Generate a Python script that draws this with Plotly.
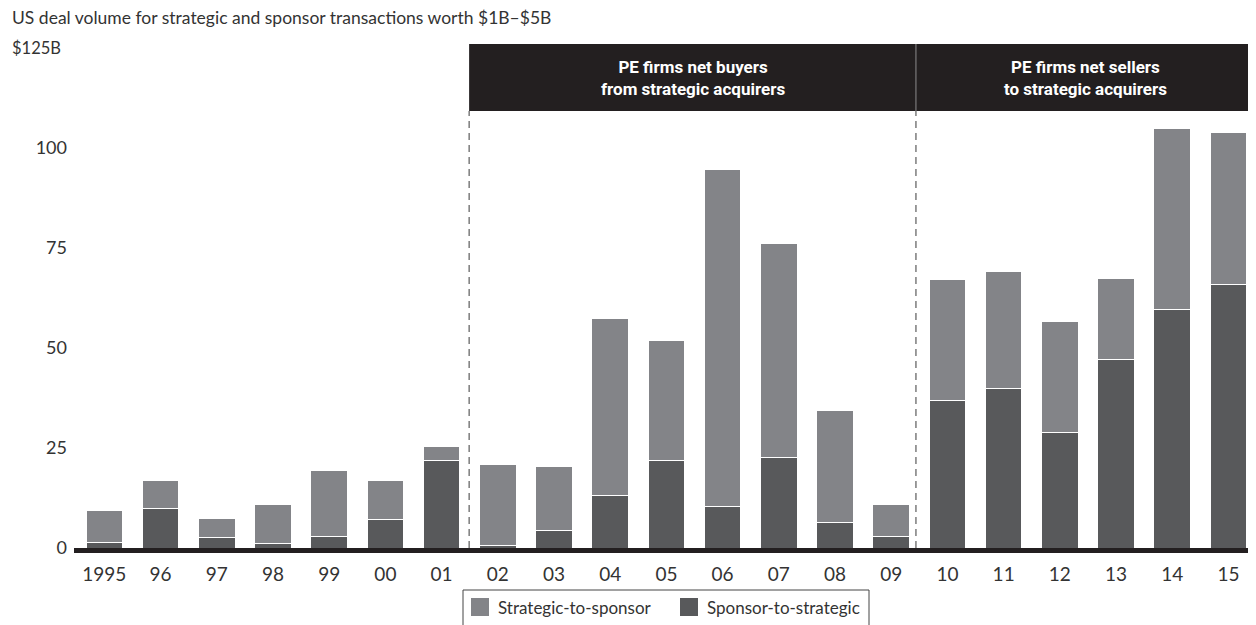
import plotly.graph_objects as go

# ---- data ----
years = ["1995", "96", "97", "98", "99", "00", "01", "02", "03", "04", "05",
         "06", "07", "08", "09", "10", "11", "12", "13", "14", "15"]
sponsor_to_strategic = [1.4, 9.9, 2.7, 1.2, 3.0, 7.1, 22.0, 0.6, 4.5, 13.2, 22.0,
                        10.5, 22.6, 6.3, 2.8, 36.8, 39.9, 28.8, 47.2, 59.6, 65.8]
total_volume = [9.5, 17.0, 7.3, 10.8, 19.3, 16.8, 25.4, 21.0, 20.5, 57.4, 51.8,
                94.7, 76.2, 34.5, 10.8, 67.2, 69.2, 56.7, 67.4, 105.0, 103.8]
strategic_to_sponsor = [round(t - s, 1) for t, s in zip(total_volume, sponsor_to_strategic)]

y_ticks = [0, 25, 50, 75, 100]
y_tick_labels = ["0", "25", "50", "75", "100"]
title_text = "US deal volume for strategic and sponsor transactions worth $1B–$5B"
unit_label = "$125B"
header_left = "PE firms net buyers<br>from strategic acquirers"
header_right = "PE firms net sellers<br>to strategic acquirers"
legend_names = ["Strategic-to-sponsor", "Sponsor-to-strategic"]

# ---- style ----
LIGHT = "#838488"
DARK = "#58595b"
INK = "#231f20"
TXT = "#333333"
FONT = "Lato"

OFF = 8  # default page body margin
W, H = 1256 - OFF, 625 - OFF
ML, MR, MT, MB = 74 - OFF, 0, 40 - OFF, 72
PW, PH = W - ML - MR, H - MT - MB

def px(x):  # page x pixel -> paper
    return (x - OFF - ML) / PW

def py(y):  # page y pixel -> paper
    return (H - MB - (y - OFF)) / PH

fig = go.Figure()
fig.add_trace(go.Bar(x=years, y=sponsor_to_strategic, name=legend_names[1],
                     marker=dict(color=DARK, line=dict(color="white", width=1)),
                     width=0.65, showlegend=False))
fig.add_trace(go.Bar(x=years, y=strategic_to_sponsor, name=legend_names[0],
                     marker=dict(color=LIGHT, line=dict(color="white", width=1)),
                     width=0.65, showlegend=False))

x_lo, x_hi = -0.54, 20.49
split1, split2 = 6.49, 14.44
box_top, box_bot = 126.0, 109.25

shapes = []
shapes.append(dict(type="rect", xref="x", yref="y", x0=split1, x1=split2, y0=box_bot, y1=box_top,
                   fillcolor=INK, line=dict(width=0), layer="above"))
shapes.append(dict(type="rect", xref="x", yref="y", x0=split2, x1=x_hi, y0=box_bot, y1=box_top,
                   fillcolor=INK, line=dict(width=0), layer="above"))
shapes.append(dict(type="line", xref="x", yref="y", x0=split2, x1=split2, y0=box_bot, y1=box_top,
                   line=dict(color="#888888", width=1), layer="above"))
for xs in (split1, split2):
    shapes.append(dict(type="line", xref="x", yref="y", x0=xs, x1=xs, y0=0, y1=box_bot,
                       line=dict(color="#3a3a3a", width=1, dash="7px,5px"), layer="above"))
shapes.append(dict(type="line", xref="x", yref="y", x0=x_lo, x1=x_hi, y0=-0.6, y1=-0.6,
                   line=dict(color=INK, width=5), layer="above"))
lx0, lx1, ly0 = 463, 869, 590
shapes.append(dict(type="path", xref="paper", yref="paper",
                   path=f"M {px(lx0)} {py(640)} L {px(lx0)} {py(ly0)} L {px(lx1)} {py(ly0)} L {px(lx1)} {py(640)}",
                   line=dict(color="#444444", width=1)))
shapes.append(dict(type="rect", xref="paper", yref="paper", x0=px(471), x1=px(489), y0=py(616), y1=py(598),
                   fillcolor=LIGHT, line=dict(width=0)))
shapes.append(dict(type="rect", xref="paper", yref="paper", x0=px(680), x1=px(698), y0=py(616), y1=py(598),
                   fillcolor=DARK, line=dict(width=0)))

annotations = [
    dict(text=title_text, xref="paper", yref="paper", x=px(10), y=py(17), xanchor="left", yanchor="middle",
         showarrow=False, font=dict(family=FONT, size=17.5, color=TXT)),
    dict(text=unit_label, xref="paper", yref="y", x=px(10), y=125, xanchor="left", yanchor="middle",
         showarrow=False, font=dict(family=FONT, size=16.5, color=TXT)),
    dict(text=header_left, xref="x", yref="y", x=(split1 + split2) / 2, y=(box_top + box_bot) / 2,
         showarrow=False, font=dict(family="Roboto", size=17, color="white", weight="bold"), align="center"),
    dict(text=header_right, xref="x", yref="y", x=(split2 + x_hi) / 2, y=(box_top + box_bot) / 2,
         showarrow=False, font=dict(family="Roboto", size=17, color="white", weight="bold"), align="center"),
    dict(text=legend_names[0], xref="paper", yref="paper", x=px(496), y=py(607.5), xanchor="left", yanchor="middle",
         showarrow=False, font=dict(family=FONT, size=17, color=TXT)),
    dict(text=legend_names[1], xref="paper", yref="paper", x=px(705), y=py(607.5), xanchor="left", yanchor="middle",
         showarrow=False, font=dict(family=FONT, size=17, color=TXT)),
]

fig.update_layout(
    width=W, height=H,
    margin=dict(l=ML, r=MR, t=MT, b=MB, pad=0),
    barmode="stack",
    plot_bgcolor="white", paper_bgcolor="white",
    shapes=shapes, annotations=annotations,
    showlegend=False,
    font=dict(family=FONT, color=TXT),
)
fig.update_xaxes(type="category", range=[x_lo, x_hi], showgrid=False, showline=False, zeroline=False,
                 ticks="", tickfont=dict(family=FONT, size=19, color=TXT), ticklabelstandoff=8)
fig.update_yaxes(range=[-1.25, 127], tickvals=y_ticks, ticktext=y_tick_labels, showgrid=False,
                 showline=False, zeroline=False, ticks="",
                 tickfont=dict(family=FONT, size=18, color=TXT), ticklabelstandoff=6)

fig.write_html("out.html")
